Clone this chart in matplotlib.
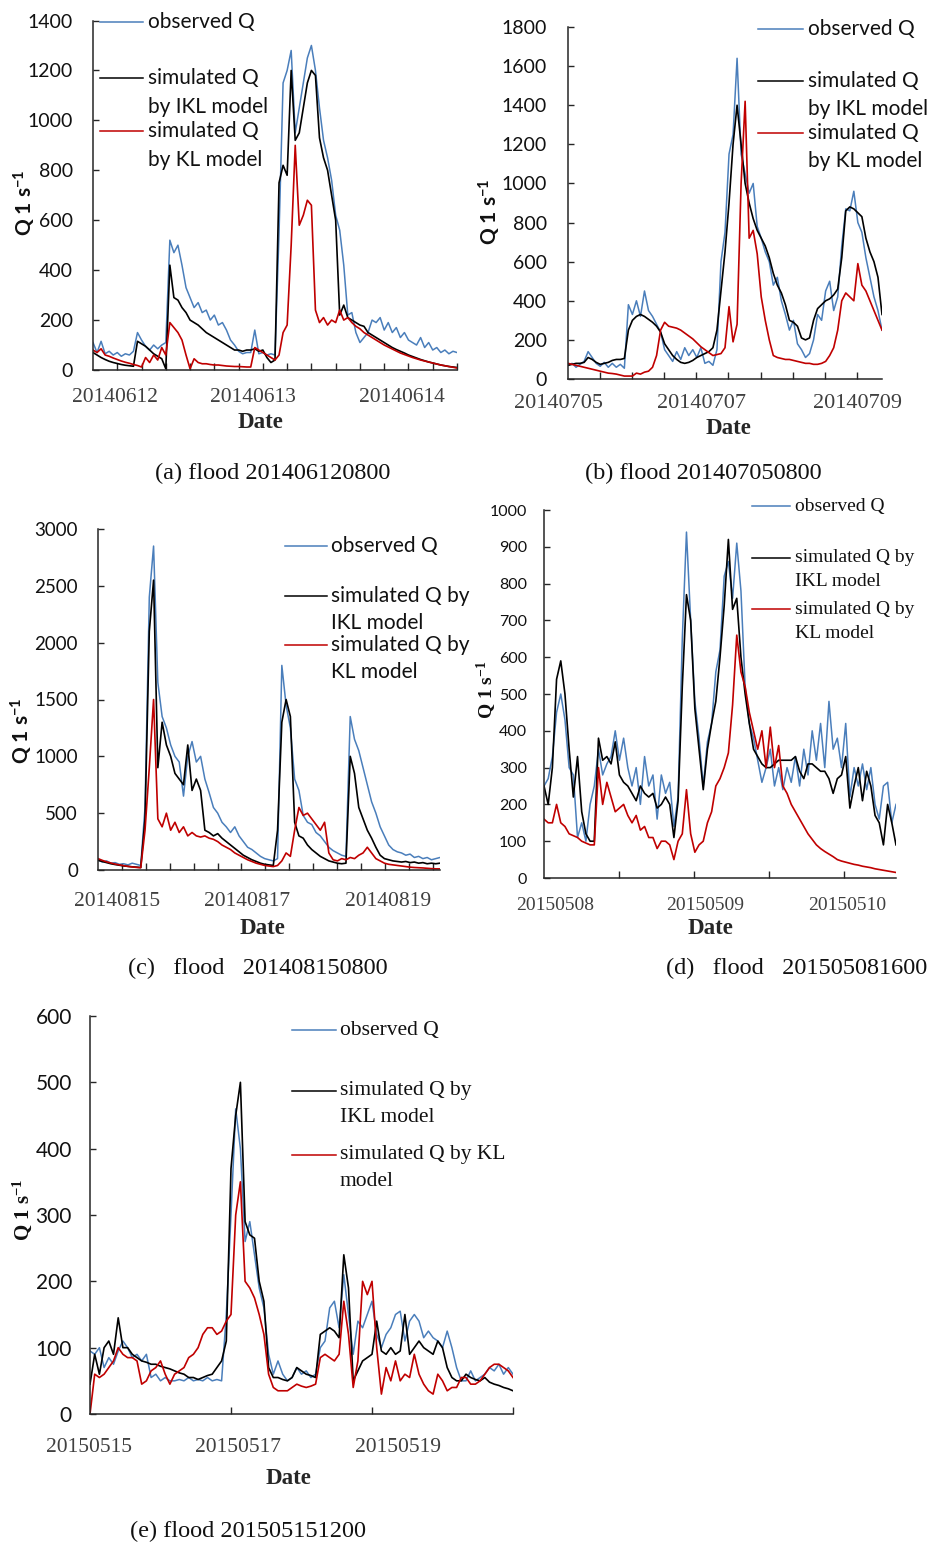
import numpy as np
import matplotlib.pyplot as plt
from matplotlib.lines import Line2D

# ---- data: discharge (l/s), equally spaced samples across each flood event ----
# (a) flood 201406120800, 60 h
a_obs = [110, 70, 115, 65, 75, 60, 70, 55, 65, 60, 75, 150, 120, 95, 80, 100, 85, 100, 110, 520,
         470, 500, 420, 330, 290, 250, 270, 230, 240, 200, 220, 180, 190, 160, 120, 100, 75, 65, 70, 70,
         160, 65, 70, 60, 65, 60, 550, 1150, 1200, 1280, 950, 1050, 1150, 1250, 1300, 1200, 1050, 920, 850, 760,
         620, 560, 420, 220, 230, 150, 110, 130, 150, 200, 190, 210, 160, 190, 150, 170, 130, 150, 120, 110,
         100, 130, 90, 110, 80, 90, 70, 80, 65, 75, 70]
a_ikl = [70, 60, 50, 42, 35, 30, 26, 22, 19, 17, 15, 115, 105, 95, 80, 65, 55, 45, 5, 420,
         290, 280, 250, 230, 200, 190, 180, 165, 150, 140, 130, 120, 110, 100, 90, 80, 80, 75, 80, 80,
         85, 75, 80, 50, 30, 40, 750, 820, 780, 1200, 920, 950, 1050, 1150, 1200, 1180, 930, 850, 800, 700,
         600, 220, 260, 210, 200, 190, 180, 175, 150, 140, 130, 120, 110, 100, 90, 82, 75, 68, 60, 54,
         48, 42, 37, 32, 28, 24, 20, 17, 14, 12, 10]
a_kl = [80, 70, 85, 60, 55, 48, 42, 36, 31, 27, 22, 18, 12, 50, 30, 60, 40, 90, 60, 190,
        170, 150, 120, 60, 5, 45, 30, 25, 25, 22, 20, 20, 18, 16, 15, 14, 14, 13, 12, 12,
        90, 80, 70, 60, 50, 40, 60, 150, 180, 500, 900, 580, 620, 680, 660, 240, 190, 210, 180, 200,
        190, 240, 200, 210, 190, 175, 165, 150, 140, 130, 120, 110, 100, 92, 84, 76, 68, 62, 56, 50,
        45, 40, 36, 32, 28, 24, 20, 17, 14, 11, 8]

# (b) flood 201407050800
b_obs = [70, 80, 60, 75, 90, 140, 110, 80, 65, 85, 60, 80, 60, 75, 55, 380, 330, 400, 320, 450,
         350, 320, 280, 240, 150, 120, 90, 140, 100, 160, 120, 150, 110, 160, 80, 90, 70, 150, 600, 750,
         1150, 1250, 1640, 1150, 1050, 950, 1000, 780, 720, 650, 600, 480, 520, 400, 330, 250, 300, 180, 150, 110,
         130, 200, 330, 300, 450, 500, 350, 420, 680, 870, 860, 960, 800, 750, 620, 520, 420, 350, 250]
b_ikl = [70, 75, 80, 80, 85, 110, 100, 85, 75, 80, 85, 95, 100, 100, 105, 250, 300, 320, 330, 320,
         305, 290, 270, 240, 180, 150, 120, 100, 85, 80, 85, 95, 110, 120, 130, 140, 160, 250, 450, 650,
         900, 1200, 1400, 1200, 1000, 900, 820, 760, 720, 680, 620, 540, 480, 440, 380, 300, 290, 270, 210, 200,
         210, 300, 360, 380, 400, 410, 430, 460, 620, 860, 880, 870, 850, 830, 720, 650, 600, 520, 330]
b_kl = [80, 75, 70, 65, 60, 55, 50, 45, 40, 35, 30, 28, 25, 20, 15, 15, 15, 30, 25, 35,
        40, 60, 120, 250, 290, 270, 265, 260, 250, 235, 220, 205, 185, 165, 150, 135, 120, 125, 130, 160,
        370, 190, 280, 1000, 1420, 720, 760, 640, 420, 300, 200, 120, 110, 105, 100, 100, 95, 90, 85, 80,
        80, 75, 75, 80, 90, 120, 160, 250, 400, 440, 420, 400, 590, 480, 450, 400, 350, 300, 250]

# (c) flood 201408150800
c_obs = [90, 70, 80, 60, 65, 50, 55, 45, 60, 50, 40, 550, 2400, 2850, 1650, 1350, 1250, 1100, 1000, 950,
         650, 1000, 1130, 950, 1000, 800, 680, 550, 500, 420, 380, 330, 380, 300, 250, 200, 180, 150, 120, 100,
         90, 80, 100, 1800, 1450, 1250, 800, 700, 480, 420, 400, 330, 300, 250, 200, 170, 150, 130, 120, 1350,
         1150, 1050, 900, 750, 600, 500, 380, 300, 220, 180, 160, 150, 130, 140, 110, 120, 100, 110, 90, 100, 110]
c_ikl = [85, 75, 65, 55, 48, 42, 36, 32, 28, 25, 22, 450, 2100, 2550, 900, 1300, 1100, 1000, 850, 800,
         750, 1100, 700, 800, 700, 350, 330, 300, 320, 280, 250, 220, 190, 160, 130, 110, 90, 75, 60, 50,
         45, 40, 350, 1300, 1500, 1350, 420, 300, 280, 220, 180, 150, 120, 100, 80, 70, 60, 55, 60, 1000,
         850, 550, 450, 350, 280, 200, 130, 100, 90, 80, 75, 70, 75, 65, 70, 60, 65, 55, 60, 55, 60]
c_kl = [100, 85, 72, 62, 52, 45, 38, 32, 27, 23, 20, 350, 900, 1500, 450, 380, 500, 350, 420, 330,
        380, 300, 330, 300, 290, 300, 280, 270, 250, 220, 200, 180, 150, 130, 110, 90, 75, 60, 50, 40,
        35, 30, 40, 80, 150, 120, 350, 550, 480, 500, 450, 400, 350, 420, 150, 90, 80, 100, 90, 110,
        100, 130, 150, 200, 150, 100, 80, 60, 50, 45, 40, 35, 30, 25, 22, 20, 18, 15, 12, 10, 10]

# (d) flood 201505081600
d_obs = [250, 270, 330, 450, 500, 430, 300, 280, 110, 150, 100, 200, 250, 350, 280, 310, 330, 400, 320, 380,
         300, 250, 300, 200, 330, 250, 280, 160, 280, 230, 260, 140, 220, 650, 940, 700, 480, 380, 250, 370,
         420, 560, 620, 820, 860, 760, 910, 780, 520, 420, 380, 320, 260, 300, 350, 250, 300, 240, 300, 260,
         330, 250, 350, 280, 400, 320, 420, 300, 480, 350, 380, 300, 420, 220, 300, 250, 310, 240, 300, 200,
         160, 250, 260, 150, 200]
d_ikl = [250, 200, 300, 540, 590, 500, 350, 220, 330, 180, 120, 100, 100, 380, 320, 330, 310, 370, 280, 260,
         250, 230, 210, 250, 230, 220, 230, 190, 200, 220, 200, 110, 210, 520, 770, 700, 460, 350, 240, 350,
         420, 480, 600, 740, 920, 730, 760, 600, 500, 420, 350, 330, 310, 300, 300, 310, 320, 320, 320, 320,
         330, 290, 270, 310, 310, 300, 290, 290, 270, 230, 270, 280, 330, 190, 250, 300, 210, 290, 250, 170,
         150, 90, 200, 150, 90]
d_kl = [160, 150, 150, 200, 150, 140, 120, 115, 110, 100, 95, 90, 90, 300, 200, 260, 220, 180, 190, 200,
        170, 150, 170, 130, 140, 110, 110, 80, 100, 100, 90, 50, 100, 120, 240, 120, 70, 90, 100, 150,
        180, 250, 270, 300, 340, 470, 660, 560, 520, 450, 400, 350, 400, 300, 410, 300, 360, 250, 230, 200,
        180, 160, 140, 120, 105, 90, 80, 72, 65, 58, 50, 46, 43, 40, 37, 35, 32, 30, 28, 25,
        23, 21, 19, 17, 15]

# (e) flood 201505151200
e_obs = [95, 90, 100, 70, 85, 75, 95, 110, 100, 85, 90, 80, 90, 55, 60, 50, 55, 50, 50, 52,
         50, 55, 50, 52, 50, 55, 50, 52, 50, 150, 300, 460, 400, 260, 290, 240, 190, 160, 90, 60,
         80, 60, 50, 55, 70, 60, 65, 55, 60, 100, 110, 160, 170, 130, 210, 150, 90, 140, 130, 150,
         170, 120, 100, 120, 130, 150, 155, 110, 140, 150, 140, 115, 125, 115, 110, 100, 125, 100, 70, 50,
         50, 65, 50, 55, 60, 70, 65, 75, 60, 70, 60]
e_ikl = [45, 90, 60, 100, 110, 90, 145, 100, 100, 90, 85, 80, 78, 75, 75, 72, 70, 68, 65, 62,
         60, 55, 55, 52, 55, 58, 60, 70, 80, 110, 370, 450, 500, 290, 270, 265, 200, 170, 70, 55,
         55, 52, 50, 55, 70, 65, 60, 58, 55, 120, 125, 130, 125, 115, 240, 190, 50, 65, 80, 85,
         90, 140, 95, 90, 100, 90, 95, 150, 90, 100, 110, 100, 95, 90, 110, 100, 70, 55, 50, 50,
         60, 55, 52, 50, 55, 48, 45, 43, 40, 38, 35]
e_kl = [0, 60, 55, 60, 70, 80, 100, 90, 85, 85, 80, 45, 50, 65, 70, 80, 60, 45, 60, 65,
        70, 85, 90, 100, 120, 130, 130, 120, 125, 140, 150, 300, 350, 200, 190, 175, 150, 120, 60, 40,
        35, 35, 35, 40, 45, 42, 40, 42, 45, 85, 90, 85, 80, 90, 170, 120, 40, 80, 200, 180,
        200, 100, 30, 70, 50, 80, 50, 60, 55, 90, 60, 45, 35, 30, 60, 50, 35, 40, 40, 55,
        55, 45, 45, 50, 60, 70, 75, 75, 70, 65, 55]

# ---- layout (pixel positions) ----
W, H = 929, 1545
BLUE, BLACK, RED = '#4a7ebb', '#000000', '#c00000'
SERIF = 'Liberation Serif'
SANS = 'Lato'

panels = [
    dict(series=(a_obs, a_ikl, a_kl), box=(93, 20.5, 457, 370), span=60, tick=4, ymax=1400, ystep=200,
         ysize=14, ypad=20, yfont=SANS, dates=['20140612', '20140613', '20140614'], date_x=[3.6, 26.4, 50.9],
         xsize=15.5, xoff=27, date_lbl=(260, 423), qlbl=(25, 203, SANS, 15),
         caption=('(a) flood 201406120800', 273, 473),
         leg=dict(x0=100, x1=143, tx=148, font=SANS, size=15,
                  items=[(BLUE, 22, ['observed Q']), (BLACK, 78, ['simulated Q', 'by IKL model']),
                         (RED, 131, ['simulated Q', 'by KL model'])], gap=29)),
    dict(series=(b_obs, b_ikl, b_kl), box=(568, 27, 882, 379), span=117.4, tick=12, ymax=1800, ystep=200,
         ysize=14, ypad=21, yfont=SANS, dates=['20140705', '20140707', '20140709'], date_x=[-3.7, 50.1, 108.4],
         xsize=16, xoff=25, date_lbl=(728, 428), qlbl=(490, 212, SANS, 15),
         caption=('(b) flood 201407050800', 703, 473),
         leg=dict(x0=758, x1=803, tx=808, font=SANS, size=15,
                  items=[(BLUE, 29, ['observed Q']), (BLACK, 81, ['simulated Q', 'by IKL model']),
                         (RED, 133, ['simulated Q', 'by KL model'])], gap=28)),
    dict(series=(c_obs, c_ikl, c_kl), box=(98, 529, 440, 870), span=114.4, tick=8, ymax=3000, ystep=500,
         ysize=13.5, ypad=20, yfont=SANS, dates=['20140815', '20140817', '20140819'], date_x=[6.4, 50, 97],
         xsize=15.5, xoff=32, date_lbl=(262, 928), qlbl=(22, 731, SANS, 15),
         caption=('(c)   flood   201408150800', 258, 968),
         leg=dict(x0=285, x1=327, tx=331, font=SANS, size=15,
                  items=[(BLUE, 546, ['observed Q']), (BLACK, 596, ['simulated Q by', 'IKL model']),
                         (RED, 645, ['simulated Q by', 'KL model'])], gap=27)),
    dict(series=(d_obs, d_ikl, d_kl), box=(544, 510, 896, 878), span=56.3, tick=12, ymax=1000, ystep=100,
         ysize=11.5, ypad=17, yfont=SANS, dates=['20150508', '20150509', '20150510'], date_x=[1.8, 25.8, 48.5],
         xsize=14, xoff=27, date_lbl=(710, 929), qlbl=(487, 690, SERIF, 14),
         caption=('(d)   flood   201505081600', 797, 968),
         leg=dict(x0=752, x1=790, tx=795, font=SERIF, size=14,
                  items=[(BLUE, 506, ['observed Q']), (BLACK, 558, ['simulated Q by', 'IKL model']),
                         (RED, 609, ['simulated Q by', 'KL model'])], gap=24)),
    dict(series=(e_obs, e_ikl, e_kl), box=(90, 1016, 513, 1414), span=144, tick=48, ymax=600, ystep=100,
         ysize=15, ypad=18, yfont=SANS, dates=['20150515', '20150517', '20150519'], date_x=[-0.3, 50.4, 105],
         xsize=15.5, xoff=34, date_lbl=(288, 1479), qlbl=(22, 1210, SERIF, 15),
         caption=('(e) flood 201505151200', 248, 1531),
         leg=dict(x0=292, x1=336, tx=340, font=SERIF, size=15.5,
                  items=[(BLUE, 1030, ['observed Q']), (BLACK, 1091, ['simulated Q by', 'IKL model']),
                         (RED, 1155, ['simulated Q by KL', 'model'])], gap=27)),
]

plt.rcParams['mathtext.default'] = 'regular'
fig = plt.figure(figsize=(W / 100, H / 100), dpi=100)


def fx(px):
    return px / W


def fy(py):
    return 1 - py / H


for p in panels:
    l, t, r, b = p['box']
    ax = fig.add_axes([fx(l), fy(b), (r - l) / W, (b - t) / H])
    obs, ikl, kl = p['series']
    for vals, col, lw in ((obs, BLUE, 1.1), (ikl, BLACK, 1.2), (kl, RED, 1.2)):
        x = np.linspace(0, p['span'], len(vals))
        ax.plot(x, vals, color=col, lw=lw)

    ax.set_xlim(0, p['span'])
    ax.set_ylim(0, p['ymax'])
    ax.set_yticks(np.arange(0, p['ymax'] + 1, p['ystep']))
    ax.set_xticks(np.arange(p['tick'], p['span'] + 0.01, p['tick']))
    ax.set_xticklabels([])
    ax.tick_params(axis='x', direction='in', length=5, width=1.0, color='#262626')
    ax.tick_params(axis='y', direction='in', length=4.5, width=1.0, color='#262626',
                   pad=p['ypad'] * 0.72, labelsize=p['ysize'], labelcolor='#111111')
    for lab in ax.get_yticklabels():
        lab.set_family(p['yfont'])
    for s in ('top', 'right'):
        ax.spines[s].set_visible(False)
    for s in ('left', 'bottom'):
        ax.spines[s].set_linewidth(1.1)
        ax.spines[s].set_color('#262626')

    # date labels under the axis
    for lab, xd in zip(p['dates'], p['date_x']):
        ax.annotate(lab, xy=(xd, 0), xycoords=('data', 'axes fraction'),
                    xytext=(0, -p['xoff']), textcoords='offset pixels',
                    ha='center', va='center', fontsize=p['xsize'], family=SERIF,
                    color='#404040', annotation_clip=False)

    fig.text(fx(p['date_lbl'][0]), fy(p['date_lbl'][1]), 'Date', ha='center', va='center',
             fontsize=16.5, family=SERIF, weight='bold', color='#262626')
    qx, qy, qfont, qsize = p['qlbl']
    fig.text(fx(qx), fy(qy), 'Q 1 s$^{-1}$', rotation=90, ha='center', va='center',
             fontsize=qsize, family=qfont, weight='bold', color='#111111')
    cap, cx, cy = p['caption']
    fig.text(fx(cx), fy(cy), cap, ha='center', va='center', fontsize=17.5, family=SERIF, color='#111111')

    # hand-placed legend, as in the original figure
    lg = p['leg']
    for col, ly, lines in lg['items']:
        fig.add_artist(Line2D([fx(lg['x0']), fx(lg['x1'])], [fy(ly), fy(ly)],
                              transform=fig.transFigure, color=col, lw=1.1))
        for k, txt in enumerate(lines):
            fig.text(fx(lg['tx']), fy(ly + k * lg['gap']), txt, ha='left', va='center',
                     fontsize=lg['size'], family=lg['font'], color='#111111')

fig.savefig('out.png', dpi=100)
